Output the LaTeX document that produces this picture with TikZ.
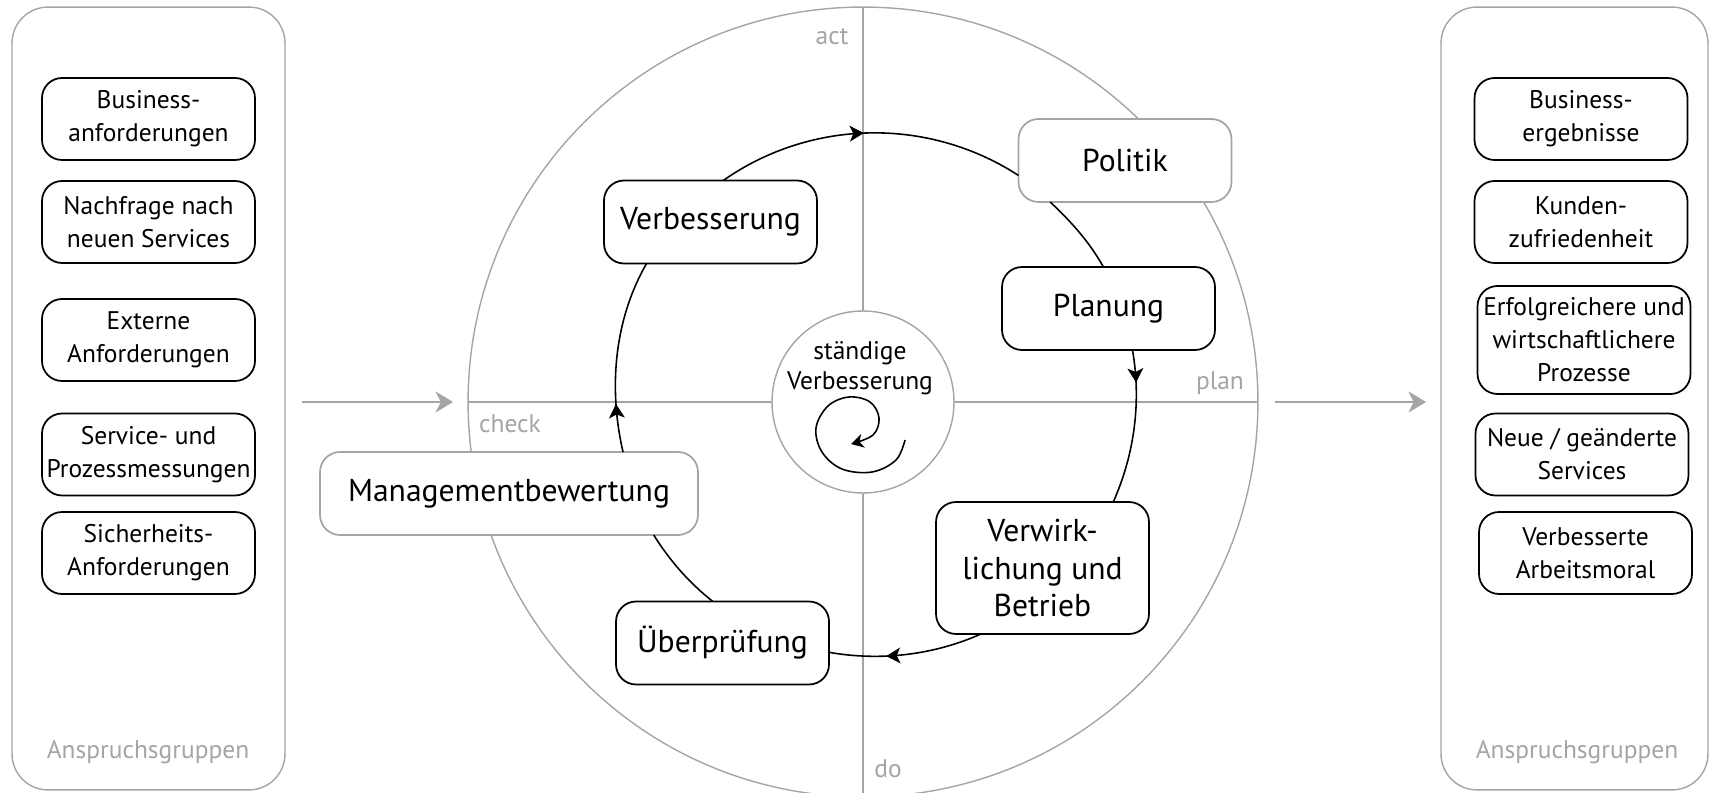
\documentclass[tikz,border=0pt]{standalone}
\usepackage{fontspec}
\setmainfont{PT Sans}
\usetikzlibrary{arrows.meta, decorations.markings}
\definecolor{pdcaGray}{RGB}{165,165,165}

\tikzset{
  stakebox/.style={draw, line width=1pt, rounded corners=0.4cm, fill=white, align=center,
    minimum width=4.26cm, minimum height=1.64cm, inner sep=0pt, outer sep=0pt,
    font=\fontsize{14.5}{18.8}\selectfont},
  phasebox/.style={stakebox, minimum height=1.66cm, font=\fontsize{18}{21.5}\selectfont},
  softbox/.style={phasebox, draw=pdcaGray},
  panel/.style={draw=pdcaGray, line width=0.8pt, rounded corners=0.72cm, inner sep=0pt, outer sep=0pt},
  axisline/.style={draw=pdcaGray, line width=0.8pt},
  tag/.style={text=pdcaGray, inner sep=0pt, font=\fontsize{14.5}{16}\selectfont},
  flow/.style={draw=pdcaGray, line width=1pt, -{Stealth[length=10pt, width=12pt, inset=3pt]},
    shorten <=0.34cm, shorten >=0.3cm},
  ringline/.style={line width=0.9pt},
  midarrow/.style={postaction={decorate}, decoration={markings,
    mark=at position #1 with {\arrow{Stealth[length=8pt, width=9pt, inset=2pt]}}}}
}

\begin{document}
\begin{tikzpicture}[x=0.02cm, y=-0.02cm]
  \useasboundingbox (0,0) rectangle (1711,793);

  % Stakeholder panels
  \node[panel, minimum width=5.46cm, minimum height=15.66cm] (inpanel) at (148.5,398.5) {};
  \node[panel, minimum width=5.34cm, minimum height=15.66cm] (outpanel) at (1574.5,398.5) {};
  \node[tag] (intag) at (148,752) {Anspruchsgruppen};
  \node[tag] (outtag) at (1577,752) {Anspruchsgruppen};

  % Requirements (left)
  \node[stakebox] (req1) at (148.5,119) {Business-\\anforderungen};
  \node[stakebox] (req2) at (148.5,222) {Nachfrage nach\\neuen Services};
  \node[stakebox] (req3) at (148.5,340) {Externe\\Anforderungen};
  \node[stakebox] (req4) at (148.5,454.5) {Service- und\\Prozessmessungen};
  \node[stakebox] (req5) at (148.5,553) {Sicherheits-\\Anforderungen};

  % Results (right)
  \node[stakebox] (res1) at (1581,119) {Business-\\ergebnisse};
  \node[stakebox] (res2) at (1581,222) {Kunden-\\zufriedenheit};
  \node[stakebox, minimum height=2.16cm] (res3) at (1584,340) {Erfolgreichere und\\wirtschaftlichere\\Prozesse};
  \node[stakebox] (res4) at (1582,454.5) {Neue / geänderte\\Services};
  \node[stakebox] (res5) at (1585.5,553) {Verbesserte\\Arbeitsmoral};

  % Quadrants
  \node[circle, draw=pdcaGray, line width=0.8pt, minimum size=15.8cm, inner sep=0pt, outer sep=0pt] (outer) at (863,402) {};
  \draw[axisline] (outer.north) -- (outer.south);
  \draw[axisline] (outer.west) -- (outer.east);
  \node[tag] (act) at (832,37) {act};
  \node[tag] (plan) at (1220,383) {plan};
  \node[tag] (check) at (510,424) {check};
  \node[tag] (do) at (888,769) {do};

  % In- and output arrows
  \draw[flow] (inpanel.east |- outer) -- (outer.west);
  \draw[flow] (outer.east) -- (outpanel.west |- outer);

  % Core
  \node[circle, draw=pdcaGray, fill=white, line width=0.8pt, minimum size=3.64cm, inner sep=0pt] (core) at (863,402) {};
  \node[align=center, inner sep=0pt, font=\fontsize{14.5}{17}\selectfont] (coretext) at (860,368) {ständige\\Verbesserung};
  \draw[ringline, -{Stealth[length=7pt, width=8pt, inset=2pt]}] plot[smooth, tension=0.6] coordinates {(905,440) (896,460) (872,472) (842,469) (822,452) (816,428) (828,406) (849,397) (870,402) (879,418) (873,435) (851,444)};

  % Phases
  \node[phasebox] (verb) at (710.5,222) {Verbesserung};
  \node[softbox] (pol) at (1125,160.5) {Politik};
  \node[phasebox] (plan box) at (1108.5,308.5) {Planung};
  \node[phasebox, minimum height=2.64cm] (verw) at (1042.5,568) {Verwirk-\\lichung und\\Betrieb};
  \node[phasebox] (ueb) at (722.5,643) {Überprüfung};
  \node[softbox, minimum width=7.56cm] (mgmt) at (509,493.5) {Managementbewertung};

  % Cycle
  \draw[ringline, midarrow=0.48] (verb.73) to[out=35, in=147, looseness=0.93] (pol.188);
  \draw[ringline] (pol.209) to[out=-43, in=119, looseness=0.86] (plan box.97.5);
  \draw[ringline, midarrow=0.21] (plan box.-60.5) to[out=-80, in=66, looseness=0.87] (verw.43);
  \draw[ringline, midarrow=0.63] (verw.227) to[out=-156, in=-10, looseness=0.87] (ueb.-5.4);
  \draw[ringline] (ueb.103) to[out=142, in=-58, looseness=0.86] (mgmt.-16);
  \draw[ringline, midarrow=0.25] (mgmt.20.8) to[out=103, in=-120, looseness=0.88] (verb.213);
\end{tikzpicture}
\end{document}
